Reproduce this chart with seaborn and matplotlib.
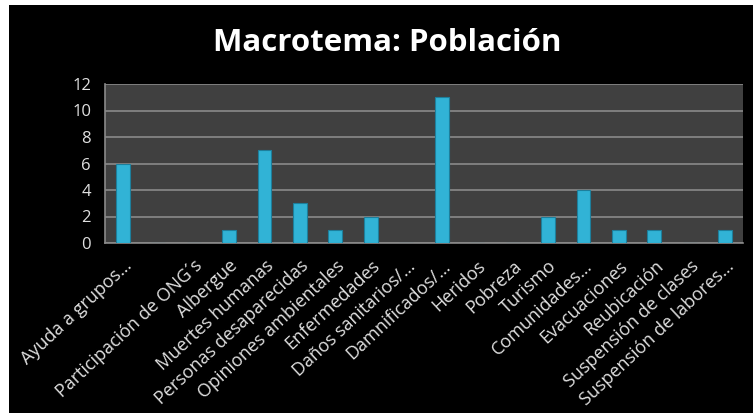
import numpy as np
import pandas as pd
import seaborn as sns
import matplotlib.pyplot as plt
from matplotlib.patches import Rectangle
from matplotlib.transforms import ScaledTranslation

# Data
categorias = ["Ayuda a grupos…", "", "Participación de ONG´s", "Albergue",
              "Muertes humanas", "Personas desaparecidas", "Opiniones ambientales",
              "Enfermedades", "Daños sanitarios/…", "Damnificados/…", "Heridos",
              "Pobreza", "Turismo", "Comunidades…", "Evacuaciones", "Reubicación",
              "Suspensión de clases", "Suspensión de labores…"]
valores = [6, 0, 0, 1, 7, 3, 1, 2, 0, 11, 0, 0, 2, 4, 1, 1, 0, 1]
yticks = [0, 2, 4, 6, 8, 10, 12]

df = pd.DataFrame({"cat": [str(i) for i in range(len(categorias))], "valor": valores})

sns.set_style("dark")
plt.rcParams['font.family'] = ['Open Sans', 'DejaVu Sans']

fig = plt.figure(figsize=(7.53, 4.13), dpi=100, facecolor="white")
fig.add_artist(Rectangle((9 / 753, 0), 1, 1 - 5 / 413, transform=fig.transFigure,
                         facecolor="black", edgecolor="none", zorder=0))
ax = fig.add_axes([105 / 753, 1 - 243 / 413, 638 / 753, 159 / 413])
ax.set_facecolor("#404040")

sns.barplot(data=df, x="cat", y="valor", color="#31b3d6", width=0.39,
            saturation=1, ax=ax, zorder=3)
for p in ax.patches:
    p.set_edgecolor("#1d7f9c")
    p.set_linewidth(0.8)

ax.set_ylim(0, 12)
ax.set_xlim(-0.5, len(categorias) - 0.5)
ax.set_yticks(yticks)
ax.set_yticklabels([str(v) for v in yticks], color="#e0e0e0", fontsize=12)
ax.yaxis.grid(True, color="#8a8a8a", linewidth=1.2, zorder=0)
ax.xaxis.grid(False)

ax.set_xticks(np.arange(len(categorias)))
ax.set_xticklabels(categorias, rotation=43, ha="right", rotation_mode="anchor",
                   color="#e0e0e0", fontsize=13)
shift = ScaledTranslation(4 / 100, 0, fig.dpi_scale_trans)
for lab in ax.get_xticklabels():
    lab.set_transform(lab.get_transform() + shift)
ax.tick_params(axis="x", length=0, pad=10)
ax.set_xticks(np.arange(-0.5, len(categorias)), minor=True)
ax.tick_params(axis="x", which="minor", length=5, color="#8a8a8a", width=1)
ax.tick_params(axis="y", length=6, color="#8a8a8a", width=1, pad=4)

for side in ["top", "right"]:
    ax.spines[side].set_visible(False)
for side in ["left", "bottom"]:
    ax.spines[side].set_visible(True)
    ax.spines[side].set_color("#8a8a8a")
    ax.spines[side].set_linewidth(1.2)

ax.set_xlabel("")
ax.set_ylabel("")

fig.text(0.514, 1 - 43 / 413, "Macrotema: Población", color="white",
         fontsize=22.5, fontweight="bold", ha="center", va="center")

fig.savefig("out.png", dpi=100, facecolor=fig.get_facecolor())
